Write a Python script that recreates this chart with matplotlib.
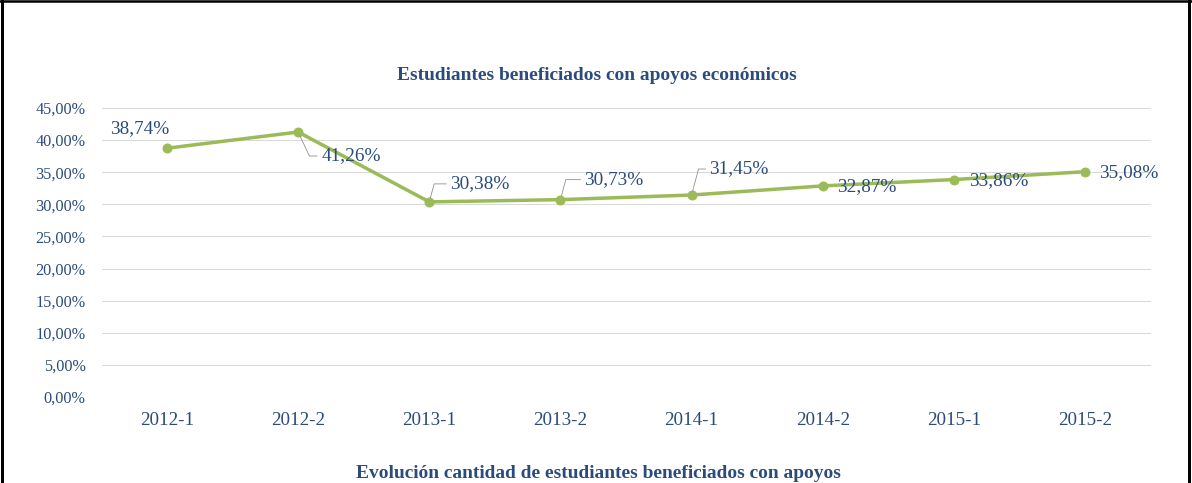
import matplotlib
matplotlib.use("Agg")
import matplotlib.pyplot as plt
from matplotlib.lines import Line2D
from matplotlib.ticker import FuncFormatter

plt.rcParams['font.family'] = ['Liberation Serif', 'DejaVu Serif']

periods = ['2012-1', '2012-2', '2013-1', '2013-2', '2014-1', '2014-2', '2015-1', '2015-2']
share = [38.74, 41.26, 30.38, 30.73, 31.45, 32.87, 33.86, 35.08]
yticks = [0, 5, 10, 15, 20, 25, 30, 35, 40, 45]

# label offsets (points), leader angle at the point (None = no leader)
offsets = [(-27, 20), (23, -24), (21, 18), (24, 20), (18, 26), (14, -1), (15, -1), (14, -1)]
leaders = [None, -65, 75, 75, 75, None, None, None]

txt = '#2A4B7C'
green = '#9BBB59'

W, H = 1192, 483
fig = plt.figure(figsize=(W / 72, H / 72), dpi=72)
ax = fig.add_axes([101.5 / W, 86 / H, 1049 / W, 289 / H])

x = range(len(periods))
ax.plot(x, share, color=green, lw=3.5, marker='o', ms=9, solid_capstyle='round', zorder=3)

ax.set_xlim(-0.5, len(periods) - 0.5)
ax.set_ylim(0, 45)
ax.set_yticks(yticks)
ax.yaxis.set_major_formatter(FuncFormatter(lambda v, p: f"{v:.2f}%".replace('.', ',')))
ax.set_xticks(list(x))
ax.set_xticklabels(periods)
ax.grid(axis='y', color='#D9D9D9', lw=1)
ax.set_axisbelow(True)
for s in ax.spines.values():
    s.set_visible(False)
ax.tick_params(axis='both', length=0, colors=txt)
ax.tick_params(axis='y', labelsize=16.3, pad=16)
ax.tick_params(axis='x', labelsize=19, pad=15)

for i, v in enumerate(share):
    dx, dy = offsets[i]
    label = f"{v:.2f}%".replace('.', ',')
    if leaders[i] is not None:
        ax.annotate(label, (i, v), xytext=(dx, dy), textcoords='offset points',
                    ha='left', va='center', fontsize=19.3, color=txt,
                    arrowprops=dict(arrowstyle='-', color='#8C8C8C', lw=0.8,
                                    relpos=(0, 0.5), shrinkA=2, shrinkB=4,
                                    connectionstyle=f'angle,angleA=0,angleB={leaders[i]}'))
    else:
        ha = 'center' if dx < 0 else 'left'
        ax.annotate(label, (i, v), xytext=(dx, dy), textcoords='offset points',
                    ha=ha, va='center', fontsize=19.3, color=txt)

fig.text(597 / W, 1 - 76 / H, 'Estudiantes beneficiados con apoyos económicos',
         ha='center', va='center', fontsize=19.4, fontweight='bold', color=txt)
fig.text(598 / W, 1 - 474 / H, 'Evolución cantidad de estudiantes beneficiados con apoyos',
         ha='center', va='center', fontsize=19.4, fontweight='bold', color=txt)

# page border
fig.add_artist(Line2D([1.5 / W, 1.5 / W], [0, 1], color='black', lw=3))
fig.add_artist(Line2D([0, 1], [1 - 1.2 / H, 1 - 1.2 / H], color='black', lw=2.5))
fig.add_artist(Line2D([1188.5 / W, 1188.5 / W], [0, 1], color='black', lw=3))

fig.savefig('out.png', dpi=72)
